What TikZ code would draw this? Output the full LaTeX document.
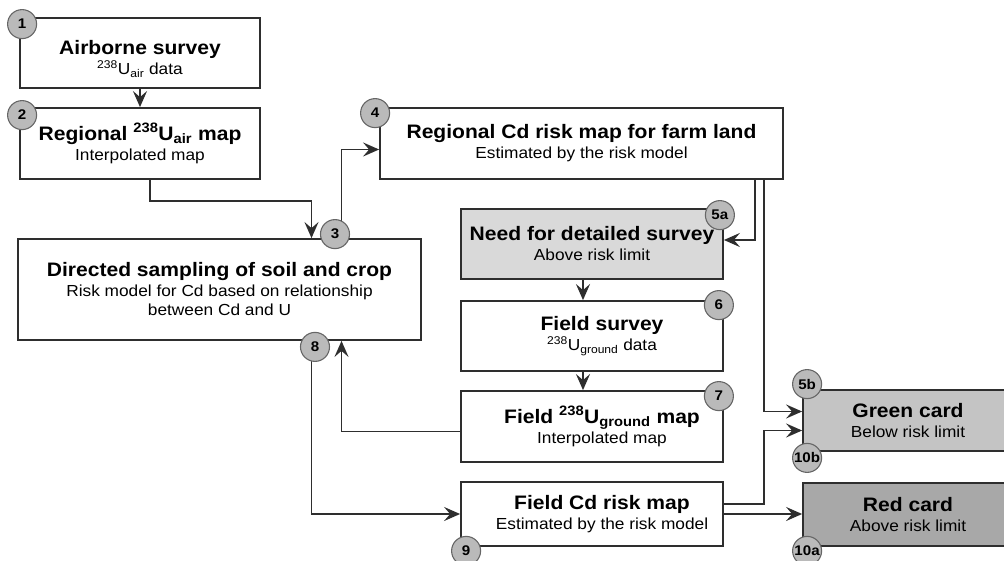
\documentclass[tikz,border=0pt]{standalone}
\usepackage{fontspec}
\setmainfont{Liberation Sans}[FakeStretch=1.08]
\usetikzlibrary{arrows.meta,positioning}
\newcommand\ttl[1]{{\fontsize{19.5}{23}\selectfont\bfseries #1}}
\newcommand\uair{\textsuperscript{238}U\textsubscript{air}}
\newcommand\ugnd{\textsuperscript{238}U\textsubscript{ground}}
\newcommand\ind{\hspace*{20pt}}
\definecolor{linegray}{HTML}{2E2E2E}

\begin{document}
\begin{tikzpicture}[x=1pt,y=-1pt,>={Stealth[length=16pt,width=14pt,inset=6pt]},
line width=1.8pt,
box/.style={draw=linegray,fill=white,align=center,inner sep=0pt,font=\fontsize{16}{19}\selectfont},
num/.style={circle,draw=black!60,fill=black!27,inner sep=0pt,minimum size=29pt,line width=1.1pt,font=\fontsize{14}{14}\selectfont\bfseries},
conn/.style={draw=linegray,->}]
\useasboundingbox[fill=white] (0,0) rectangle (1004,561);
% boxes
\node[box,minimum width=240,minimum height=70] (air) at (140,53) {\rule{0pt}{26pt}\ttl{Airborne survey}\\[1pt]\uair{} data};
\node[box,minimum width=240,minimum height=71] (regu) at (140,143.5) {\ttl{Regional \uair{} map}\\[1pt]Interpolated map};
\node[box,minimum width=403,minimum height=101] (dir) at (219.5,289.5) {\ttl{Directed sampling of soil and crop}\\[1pt]Risk model for Cd based on relationship\\between Cd and U};
\node[box,minimum width=403,minimum height=71] (regcd) at (581.5,143.5) {\ttl{Regional Cd risk map for farm land}\\[1pt]Estimated by the risk model};
\node[box,fill=black!15,minimum width=262,minimum height=70] (need) at (592,244) {\ttl{Need for detailed survey}\\[1pt]Above risk limit};
\node[box,minimum width=262,minimum height=70] (fsurv) at (592,336) {\ind\ttl{Field survey}\\[1pt]\ind\ugnd{} data};
\node[box,minimum width=262,minimum height=71] (fmap) at (592,426.5) {\ind\ttl{Field \ugnd{} map}\\[1pt]\ind Interpolated map};
\node[box,minimum width=262,minimum height=64] (fcd) at (592,514) {\ind\ttl{Field Cd risk map}\\[1pt]\ind Estimated by the risk model};
\node[box,fill=black!23,minimum width=210,minimum height=61] (green) at (908,420.5) {\ttl{Green card}\\[1pt]Below risk limit};
\node[box,fill=black!34,minimum width=210,minimum height=63] (red) at (908,514.5) {\ttl{Red card}\\[1pt]Above risk limit};
% connectors
\draw[conn] (air) -- (regu);
\draw[conn] ([xshift=10]regu.south) -- ++(0,21) -| ([xshift=92]dir.north);
\draw[conn] ([xshift=122]dir.north) |- ([yshift=-6]regcd.west);
\draw[conn] ([xshift=-29]regcd.south east) |- ([yshift=4]need.east);
\draw[conn] ([xshift=-20]regcd.south east) |- ([yshift=9]green.west);
\draw[conn] ([xshift=-9]need.south) -- ([xshift=-9]fsurv.north);
\draw[conn] ([xshift=-9]fsurv.south) -- ([xshift=-9]fmap.north);
\draw[conn] ([yshift=-5]fmap.west) -| ([xshift=122]dir.south);
\draw[conn] ([xshift=92]dir.south) |- (fcd.west);
\draw[conn] ([yshift=10]fcd.east) -- ++(40,0) |- ([yshift=-10]green.west);
\draw[conn] (fcd.east) -- (fcd.east -| red.west);
% step numbers
\node[num] (c1) at ([shift={(3,7)}]air.north west) {1};
\node[num] (c2) at ([shift={(3,8)}]regu.north west) {2};
\node[num] (c3) at ([shift={(115.5,-4)}]dir.north) {3};
\node[num] (c4) at ([shift={(-4,6)}]regcd.north west) {4};
\node[num] (c5a) at ([shift={(-4,7)}]need.north east) {5a};
\node[num] (c6) at ([shift={(-5,5)}]fsurv.north east) {6};
\node[num] (c7) at ([shift={(-5,6)}]fmap.north east) {7};
\node[num] (c8) at ([shift={(95.5,6)}]dir.south) {8};
\node[num] (c9) at ([shift={(6,4)}]fcd.south west) {9};
\node[num] (c5b) at ([shift={(5,-5)}]green.north west) {5b};
\node[num] (c10b) at ([shift={(5,6)}]green.south west) {10b};
\node[num] (c10a) at ([shift={(5,4)}]red.south west) {10a};
\end{tikzpicture}
\end{document}
